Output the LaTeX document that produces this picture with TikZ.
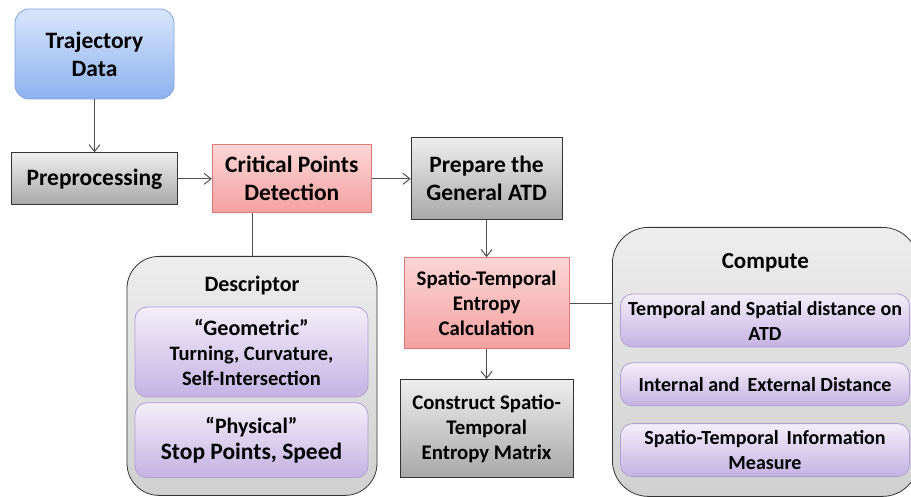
\documentclass[tikz,border=0pt]{standalone}
\usepackage{fontspec}
\setmainfont{Carlito}
\usetikzlibrary{arrows, arrows.meta, positioning}

\definecolor{bluehi}{HTML}{D8E6FC}
\definecolor{bluelo}{HTML}{8DB1EE}
\definecolor{blueedge}{HTML}{7FA3D9}
\definecolor{pinkhi}{HTML}{FCD6D6}
\definecolor{pinklo}{HTML}{F4A0A0}
\definecolor{pinkedge}{HTML}{E07A7A}
\definecolor{grayhi}{HTML}{EEEEEE}
\definecolor{graylo}{HTML}{A8A8A8}
\definecolor{grayedge}{HTML}{333333}
\definecolor{lilachi}{HTML}{F3EEF9}
\definecolor{lilaclo}{HTML}{C4B2E3}
\definecolor{lilacedge}{HTML}{B0A0D2}
\definecolor{framehi}{HTML}{EDEDED}
\definecolor{framelo}{HTML}{D0D0D0}
\definecolor{linegray}{HTML}{505050}

\begin{document}
\begin{tikzpicture}[
            x = 1pt, y = -1pt, % pixel grid, y grows downward
            > = {Straight Barb[length = 7pt, width = 11pt]}, % open arrow head
            node distance = 30pt,
            line width = 0.8pt
        ]

        \tikzstyle{box}=[
            draw,
            align = center,
            inner sep = 2pt,
            font = \fontsize{23.5}{28}\selectfont\bfseries
        ]
        \tikzstyle{graybox}=[box, draw = grayedge, top color = grayhi, bottom color = graylo]
        \tikzstyle{pinkbox}=[box, draw = pinkedge, top color = pinkhi, bottom color = pinklo]
        \tikzstyle{bluebox}=[box, draw = blueedge, top color = bluehi, bottom color = bluelo, rounded corners = 14pt]
        \tikzstyle{lilacbox}=[box, draw = lilacedge, top color = lilachi, bottom color = lilaclo, rounded corners = 12pt]
        \tikzstyle{frame}=[draw = grayedge, top color = framehi, bottom color = framelo, rounded corners = 32pt]
        \tikzstyle{small}=[font = \fontsize{20}{25}\selectfont\bfseries]
        \tikzstyle{mid}=[font = \fontsize{20.8}{25}\selectfont\bfseries]
        \tikzstyle{link}=[draw = linegray, line width = 1pt]

        \useasboundingbox (0,0) rectangle (911,497);
        \clip (0,0) rectangle (911,497);

        % main flow
        \node[bluebox, minimum width = 159pt, minimum height = 90pt] (traj) at (94.5,54) {Trajectory\\Data};
        \node[graybox, minimum width = 166pt, minimum height = 52pt] (prep) [below = 53pt of traj] {Preprocessing};
        \node[pinkbox, minimum width = 159pt, minimum height = 68pt] (crit) [right = 34pt of prep] {Critical Points\\Detection};
        \node[graybox, minimum width = 151pt, minimum height = 82pt] (atd) [right = 39pt of crit] {Prepare the\\General ATD};
        \node[pinkbox, mid, minimum width = 165pt, minimum height = 91pt] (entropy) [below = 37pt of atd] {Spatio-Temporal\\Entropy\\Calculation};
        \node[graybox, mid, minimum width = 173pt, minimum height = 98pt] (matrix) [below = 30pt of entropy] {Construct Spatio-\\Temporal\\Entropy Matrix};

        % descriptor group
        \node[frame, minimum width = 250pt, minimum height = 239pt, anchor = north] (desc) at (252,256) {};
        \node[box, draw = none, font = \fontsize{22}{27}\selectfont\bfseries] (desctitle) [below = 18pt of desc.north] {Descriptor};
        \node[lilacbox, font = \fontsize{22}{25}\selectfont\bfseries, minimum width = 233pt, minimum height = 90pt] (geo) at (251.5,352) {``Geometric''\\{\fontsize{20.5}{25}\selectfont Turning, Curvature,}\\{\fontsize{20.5}{25}\selectfont Self-Intersection}};
        \node[lilacbox, font = \fontsize{22}{26}\selectfont\bfseries, minimum width = 233pt, minimum height = 75pt] (phys) [below = 5pt of geo] {``Physical''\\{\fontsize{23.5}{26}\selectfont Stop Points, Speed}};

        % compute group
        \node[frame, rounded corners = 36pt, minimum width = 306pt, minimum height = 269pt, anchor = north west] (comp) at (612,227) {};
        \node[box, draw = none, font = \fontsize{23}{27}\selectfont\bfseries] (comptitle) [below = 24pt of comp.north] {Compute};
        \node[lilacbox, small, minimum width = 289pt, minimum height = 53pt] (tsd) at (765,320.5) {Temporal and Spatial distance on\\ATD};
        \node[lilacbox, small, minimum width = 289pt, minimum height = 43pt] (ied) [below = 15pt of tsd] {Internal and\, External Distance};
        \node[lilacbox, small, minimum width = 289pt, minimum height = 53pt] (stim) [below = 17pt of ied] {Spatio-Temporal\, Information\\Measure};

        % connectors
        \path[link, ->] (traj) edge (prep);
        \path[link, ->] (prep) edge (crit);
        \path[link, ->] (crit) edge (atd);
        \path[link, ->] (atd) edge (entropy);
        \path[link, ->] (entropy) edge (matrix);
        \draw[link] (desc.north) -- (desc.north |- crit.south);
        \draw[link] (entropy.east) -- (entropy.east -| comp.west);

    \end{tikzpicture}
\end{document}
